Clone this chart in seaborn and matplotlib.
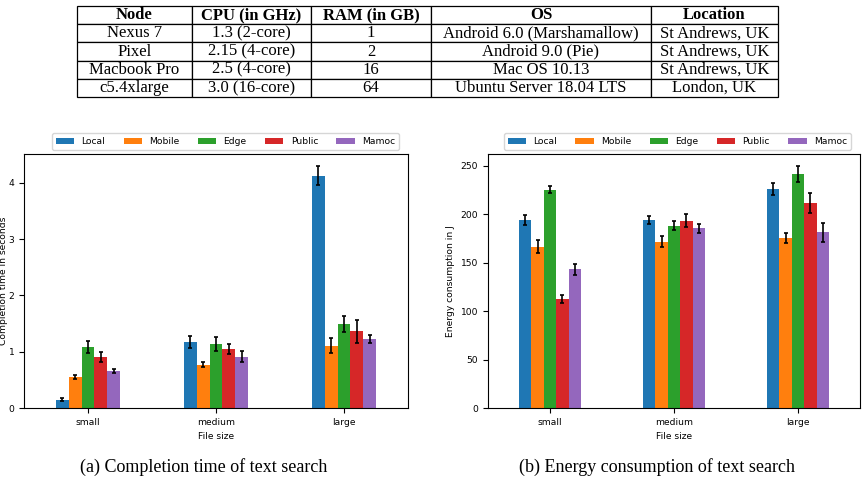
import pandas as pd
import matplotlib
matplotlib.use('Agg')
import matplotlib.pyplot as plt
import seaborn as sns

# --- Data ---
sizes = ['small', 'medium', 'large']
modes = ['Local', 'Mobile', 'Edge', 'Public', 'Mamoc']

time_local = [0.15, 1.17, 4.13]
time_mobile = [0.55, 0.77, 1.11]
time_edge = [1.08, 1.14, 1.49]
time_public = [0.91, 1.05, 1.36]
time_mamoc = [0.66, 0.91, 1.22]
time_err_local = [0.03, 0.11, 0.17]
time_err_mobile = [0.04, 0.05, 0.13]
time_err_edge = [0.11, 0.12, 0.14]
time_err_public = [0.09, 0.09, 0.21]
time_err_mamoc = [0.03, 0.10, 0.07]

energy_local = [193.8, 194.0, 226.0]
energy_mobile = [166.4, 171.6, 175.4]
energy_edge = [225.3, 188.2, 241.5]
energy_public = [112.1, 193.1, 211.4]
energy_mamoc = [142.9, 185.5, 181.3]
energy_err_local = [5.0, 4.0, 6.5]
energy_err_mobile = [6.5, 5.5, 5.5]
energy_err_edge = [3.5, 5.0, 8.0]
energy_err_public = [4.0, 6.5, 10.5]
energy_err_mamoc = [5.5, 4.5, 10.0]

table_header = ['Node', 'CPU (in GHz)', 'RAM (in GB)', 'OS', 'Location']
table_rows = [
    ['Nexus 7', '1.3 (2-core)', '1', 'Android 6.0 (Marshamallow)', 'St Andrews, UK'],
    ['Pixel', '2.15 (4-core)', '2', 'Android 9.0 (Pie)', 'St Andrews, UK'],
    ['Macbook Pro', '2.5 (4-core)', '16', 'Mac OS 10.13', 'St Andrews, UK'],
    ['c5.4xlarge', '3.0 (16-core)', '64', 'Ubuntu Server 18.04 LTS', 'London, UK'],
]


def long_form(series, errors):
    rows = []
    for mode, vals, errs in zip(modes, series, errors):
        for size, v, e in zip(sizes, vals, errs):
            rows.append({'size': size, 'mode': mode, 'value': v, 'err': e})
    return pd.DataFrame(rows)


time_df = long_form([time_local, time_mobile, time_edge, time_public, time_mamoc],
                    [time_err_local, time_err_mobile, time_err_edge, time_err_public, time_err_mamoc])
energy_df = long_form([energy_local, energy_mobile, energy_edge, energy_public, energy_mamoc],
                      [energy_err_local, energy_err_mobile, energy_err_edge, energy_err_public, energy_err_mamoc])

palette = sns.color_palette('tab10', 5)
FS = 6.6

fig = plt.figure(figsize=(8.64, 4.88), dpi=100)


def bar_panel(rect, df, ylabel, legend_x):
    ax = fig.add_axes(rect)
    sns.barplot(data=df, x='size', y='value', hue='mode', order=sizes, hue_order=modes,
                palette=palette, width=0.5, gap=0, saturation=1, errorbar=None,
                linewidth=0, ax=ax)
    # error bars at the bar centres
    for i, mode in enumerate(modes):
        bars = ax.containers[i]
        sub = df[df['mode'] == mode].set_index('size').loc[sizes]
        xs = [b.get_x() + b.get_width() / 2 for b in bars]
        ax.errorbar(xs, sub['value'], yerr=sub['err'], fmt='none', ecolor='black',
                    elinewidth=1.2, capsize=1.6, capthick=1.2)
    ax.set_xlim(-0.5, 2.5)
    ax.set_ylim(bottom=0)
    ax.set_xlabel('File size', fontsize=FS)
    ax.set_ylabel(ylabel, fontsize=FS)
    ax.tick_params(labelsize=FS)
    ax.legend(loc='center', bbox_to_anchor=(legend_x, 0.710), bbox_transform=fig.transFigure,
              ncol=5, fontsize=FS, columnspacing=2.0)
    return ax


ax1 = bar_panel([24 / 864, 80 / 488, 384 / 864, 254 / 488], time_df,
                'Completion time in seconds', 0.261)
ax1.yaxis.set_label_coords(-0.041, 0.5)
ax2 = bar_panel([488 / 864, 80 / 488, 372 / 864, 254 / 488], energy_df,
                'Energy consumption in J', 0.784)
ax2.set_yticks([0, 50, 100, 150, 200, 250])

# --- Table ---
tax = fig.add_axes([77 / 864, 391 / 488, 701 / 864, 91 / 488])
tax.axis('off')
col_w = [115, 119, 120, 220, 127]
col_w = [w / sum(col_w) for w in col_w]
tbl = tax.table(cellText=table_rows, colLabels=table_header, colWidths=col_w,
                cellLoc='center', bbox=[0, 0, 1, 1])
tbl.auto_set_font_size(False)
for (r, c), cell in tbl.get_celld().items():
    cell.set_linewidth(0.9)
    t = cell.get_text()
    t.set_fontfamily('Liberation Serif')
    t.set_fontsize(12)
    if r == 0:
        t.set_fontweight('bold')

# --- Captions ---
fig.text(204 / 864, 21 / 488, '(a) Completion time of text search', ha='center', va='center',
         fontsize=13, family='Liberation Serif')
fig.text(657 / 864, 21 / 488, '(b) Energy consumption of text search', ha='center', va='center',
         fontsize=13, family='Liberation Serif')

fig.savefig('out.png', dpi=100)
